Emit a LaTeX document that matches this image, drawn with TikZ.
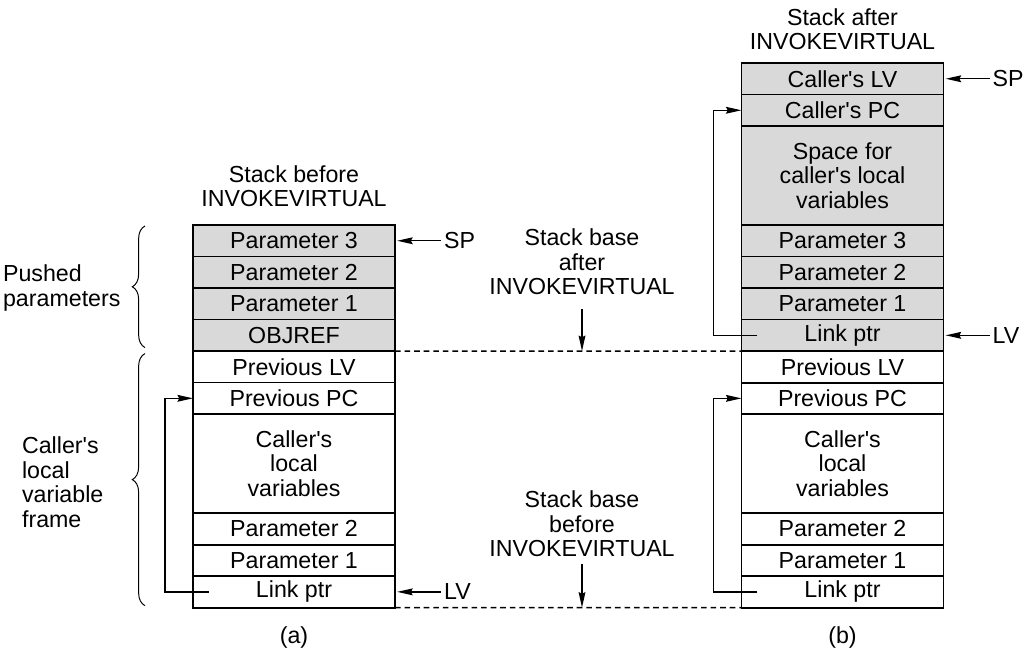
\documentclass[tikz,border=0pt]{standalone}
\usepackage{fontspec}
\setmainfont{Liberation Sans}
\usetikzlibrary{positioning,arrows.meta,decorations.pathreplacing}
\newcommand{\squote}{\textquotesingle}
\tikzset{
	cell/.style={draw, line width=1.3pt, minimum width=5.05cm, minimum height=0.7875cm, inner sep=0pt, outer sep=0pt, align=center},
	pushed/.style={cell, fill=gray!30},
	tall/.style={minimum height=2.475cm},
	lbl/.style={inner sep=2pt, align=center},
	ptr/.style={-{Stealth[length=11pt,width=4.8pt,inset=1.2pt]}, line width=1pt},
	base/.style={dashed, dash pattern=on 4pt off 2.8pt, line width=1.1pt},
	brc/.style={decorate, decoration={brace, amplitude=9pt}, line width=0.7pt}
}
\begin{document}
\begin{tikzpicture}[x=0.025cm, y=-0.025cm, font=\fontsize{16.5}{17.4}\selectfont, line join=miter]
	\useasboundingbox (0,0) rectangle (1024,654);
	
	% stack before the call
	\node[lbl] (atitle) at (294,186) {Stack before\\INVOKEVIRTUAL};
	\node[pushed, anchor=north] (a3) at (294,225) {Parameter 3};
	\node[pushed, below=0pt of a3] (a2) {Parameter 2};
	\node[pushed, below=0pt of a2] (a1) {Parameter 1};
	\node[pushed, below=0pt of a1] (aobj) {OBJREF};
	\node[cell, below=0pt of aobj] (alv) {Previous LV};
	\node[cell, below=0pt of alv] (apc) {Previous PC};
	\node[cell, tall, below=0pt of apc] (aloc) {Caller\squote s\\local\\variables};
	\node[cell, below=0pt of aloc] (ap2) {Parameter 2};
	\node[cell, below=0pt of ap2] (ap1) {Parameter 1};
	\node[cell, below=0pt of ap1] (alink) {Link ptr};
	\node[lbl] (acap) at (294,637) {(a)};
	
	% stack after the call
	\node[lbl] (btitle) at (842.5,29) {Stack after\\INVOKEVIRTUAL};
	\node[pushed, anchor=north] (bclv) at (842.5,63) {Caller\squote s LV};
	\node[pushed, below=0pt of bclv] (bcpc) {Caller\squote s PC};
	\node[pushed, tall, below=0pt of bcpc] (bspace) {Space for\\caller\squote s local\\variables};
	\node[pushed, below=0pt of bspace] (b3) {Parameter 3};
	\node[pushed, below=0pt of b3] (b2) {Parameter 2};
	\node[pushed, below=0pt of b2] (b1) {Parameter 1};
	\node[pushed, below=0pt of b1] (blink) {Link ptr};
	\node[cell, below=0pt of blink] (blv) {Previous LV};
	\node[cell, below=0pt of blv] (bpc) {Previous PC};
	\node[cell, tall, below=0pt of bpc] (bloc) {Caller\squote s\\local\\variables};
	\node[cell, below=0pt of bloc] (bp2) {Parameter 2};
	\node[cell, below=0pt of bp2] (bp1) {Parameter 1};
	\node[cell, below=0pt of bp1] (bplink) {Link ptr};
	\node[lbl] (bcap) at (842.5,637) {(b)};
	
	% SP and LV
	\node[lbl, right=1.15cm of a3] (spa) {SP};
	\node[lbl, right=1.15cm of alink] (lva) {LV};
	\node[lbl, right=1.15cm of bclv] (spb) {SP};
	\node[lbl, right=1.15cm of blink] (lvb) {LV};
	\draw[ptr, shorten >=1.5pt] (spa) -- (a3);
	\draw[ptr, shorten >=1.5pt] (lva) -- (alink);
	\draw[ptr, shorten >=1.5pt] (spb) -- (bclv);
	\draw[ptr, shorten >=1.5pt] (lvb) -- (blink);
	
	% link pointers
	\draw[ptr] ([xshift=0.4cm]alink.west) -- ++(-1.1cm,0) |- (apc.west);
	\draw[ptr] ([xshift=0.4cm]bplink.west) -- ++(-1.1cm,0) |- (bpc.west);
	\draw[ptr] ([xshift=0.4cm]blink.west) -- ++(-1.1cm,0) |- (bcpc.west);
	
	% stack bases
	\draw[base] (aobj.south east) -- (blink.south west);
	\draw[base] (alink.south east) -- (bplink.south west);
	\node[lbl] (basea) at (582,262) {Stack base\\after\\INVOKEVIRTUAL};
	\node[lbl] (baseb) at (582,524) {Stack base\\before\\INVOKEVIRTUAL};
	\draw[ptr, shorten <=8pt] (basea) -- (basea |- aobj.south);
	\draw[ptr, shorten <=3pt] (baseb) -- (baseb |- alink.south);
	
	% braces
	\draw[brc] ([xshift=-1.2cm,yshift=2.5pt]aobj.south west) -- ([xshift=-1.2cm,yshift=-0.7pt]a3.north west);
	\draw[brc] ([xshift=-1.2cm,yshift=1.4pt]alink.south west) -- ([xshift=-1.2cm,yshift=-1.8pt]alv.north west);
	\node[lbl, align=left, anchor=west] (pushlbl) at (0,288) {Pushed\\parameters};
	\node[lbl, align=left, anchor=west] (framelbl) at (19,482) {Caller\squote s\\local\\variable\\frame};
\end{tikzpicture}
\end{document}
